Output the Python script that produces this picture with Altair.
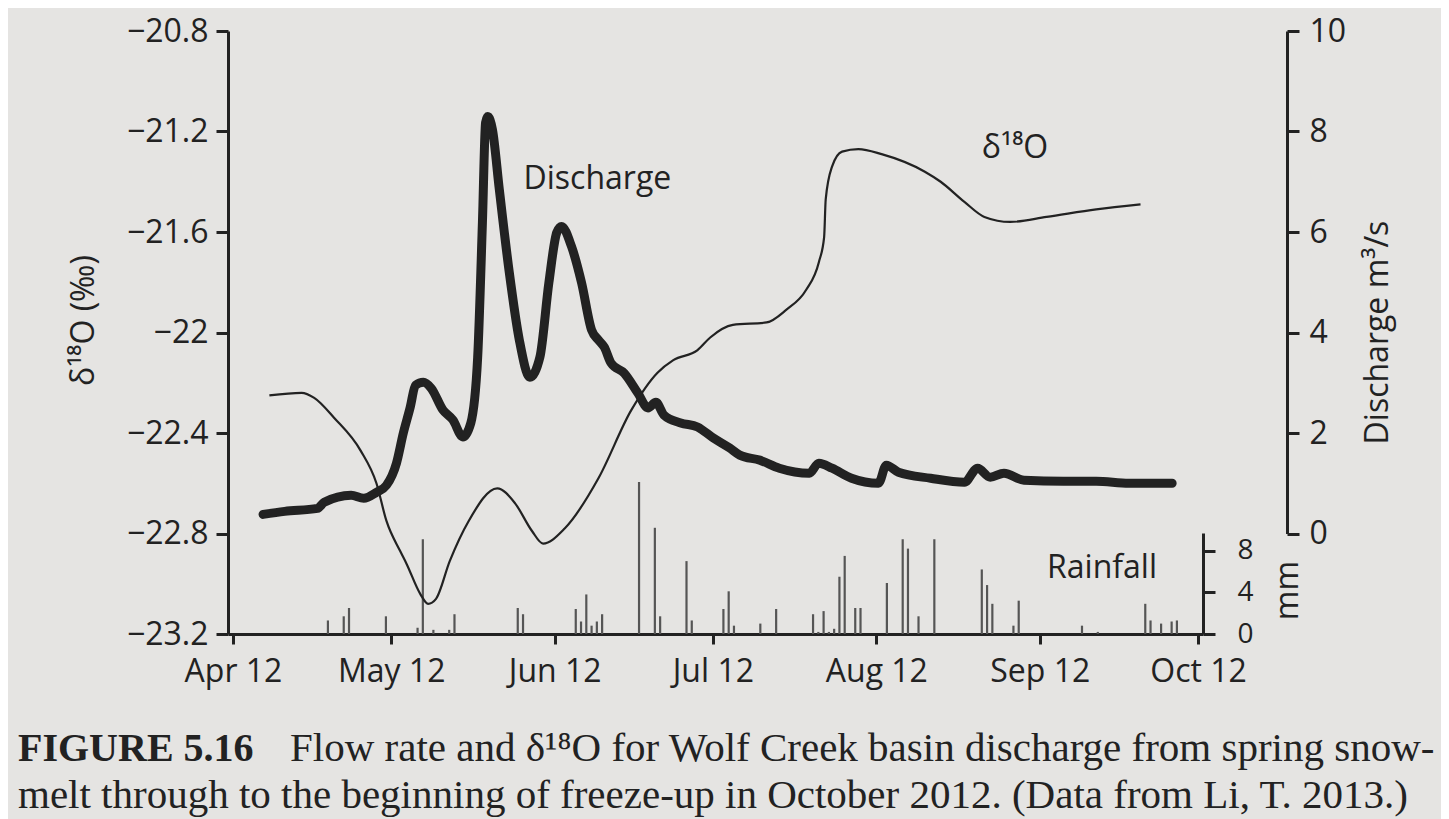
import altair as alt
import pandas as pd

START = pd.Timestamp("2012-04-12")

# ---- data (day offsets from 12 Apr 2012) ----
rain_day = [18, 21, 22, 29, 35, 36, 38, 41, 42, 54, 55, 65, 66, 67, 68, 69, 70, 77, 80, 81,
            86, 87, 93, 94, 95, 100, 103, 110, 111, 112, 113, 114, 115, 116, 118, 119, 124,
            127, 128, 130, 133, 142, 143, 144, 148, 149, 161, 164, 173, 174, 176, 178, 179]
rain_mm = [1.3, 1.7, 2.5, 1.7, 0.6, 9.1, 0.4, 0.4, 1.9, 2.5, 1.9, 2.4, 1.2, 3.8, 0.8, 1.2, 1.9,
           14.6, 10.2, 1.7, 7.0, 1.3, 2.4, 4.1, 0.8, 1.0, 2.4, 1.9, 0.2, 2.2, 0.2, 0.5, 5.5,
           7.5, 2.5, 2.5, 4.9, 9.1, 8.2, 1.7, 9.1, 6.2, 4.7, 2.9, 0.8, 3.2, 0.8, 0.2, 2.9,
           1.3, 1.0, 1.2, 1.3]

d18o_day = [6.9, 13.0, 15.4, 19.2, 24.2, 27.2, 29.1, 31.7, 32.9, 35.5, 37.0, 38.5, 41.1, 44.7,
            50.1, 53.5, 56.7, 58.8, 62.9, 69.3, 75.5, 80.5, 83.5, 88.1, 90.5, 94.8, 101.2,
            104.9, 108.7, 111.1, 112.1, 112.4, 113.6, 115.5, 118.6, 123.0, 131.2, 134.2,
            138.7, 142.5, 147.4, 154.3, 163.7, 172.1]
d18o_val = [-22.25, -22.24, -22.26, -22.34, -22.47, -22.60, -22.75, -22.87, -22.92, -23.04,
            -23.08, -23.06, -22.91, -22.75, -22.62, -22.68, -22.79, -22.84, -22.78, -22.58,
            -22.31, -22.16, -22.11, -22.07, -22.02, -21.97, -21.96, -21.91, -21.83, -21.72,
            -21.62, -21.47, -21.34, -21.28, -21.27, -21.29, -21.36, -21.40, -21.48, -21.54,
            -21.56, -21.54, -21.51, -21.49]

q_day = [5.7, 9.8, 16.0, 17.3, 22.4, 24.8, 27.2, 29.1, 31.0, 32.3, 33.6, 34.6, 36.1, 37.6,
         39.8, 41.7, 43.6, 45.1, 46.4, 47.3, 47.9, 48.3, 49.2, 50.5, 52.4, 54.3, 56.3, 58.2,
         59.9, 61.4, 62.3, 64.2, 66.1, 68.0, 69.3, 70.4, 71.7, 74.2, 76.8, 78.7, 80.2, 81.7,
         84.9, 88.1, 91.1, 94.2, 96.1, 99.9, 103.6, 109.3, 111.1, 113.6, 117.3, 122.4, 123.9,
         126.2, 132.3, 138.7, 141.2, 143.6, 146.2, 150.0, 157.5, 163.7, 169.9, 178.1]
q_val = [0.38, 0.44, 0.50, 0.62, 0.76, 0.70, 0.82, 0.96, 1.40, 2.00, 2.51, 2.95, 3.01, 2.89,
         2.46, 2.26, 1.92, 2.20, 3.51, 6.19, 8.18, 8.30, 8.04, 6.85, 5.19, 3.85, 3.11, 3.51,
         4.99, 5.99, 6.11, 5.71, 4.99, 4.05, 3.85, 3.71, 3.39, 3.19, 2.79, 2.50, 2.61, 2.36,
         2.20, 2.12, 1.90, 1.70, 1.56, 1.46, 1.30, 1.20, 1.40, 1.30, 1.10, 1.00, 1.36,
         1.22, 1.10, 1.02, 1.30, 1.12, 1.20, 1.06, 1.04, 1.04, 1.00, 1.00]

tick_dates = [(2012, 4, 12), (2012, 5, 12), (2012, 6, 12), (2012, 7, 12),
              (2012, 8, 12), (2012, 9, 12), (2012, 10, 12)]
d18o_ticks = [-23.2, -22.8, -22.4, -22.0, -21.6, -21.2, -20.8]
q_ticks = [0, 2, 4, 6, 8, 10]
rain_ticks = [0, 4, 8]

# annotation labels (day offset, value on own axis)
label_discharge = (69.1, 6.86)
label_d18o = (148.3, -21.305)
label_rain = (164.8, 5.4)

caption_head = "FIGURE 5.16"
caption_l1 = "Flow rate and δ¹⁸O for Wolf Creek basin discharge from spring snow-"
caption_l2 = "melt through to the beginning of freeze-up in October 2012. (Data from Li, T. 2013.)"


def iso(days):
    return [(START + pd.Timedelta(days=float(d))).strftime("%Y-%m-%dT%H:%M:%SZ") for d in days]


rain_df = pd.DataFrame({"date": iso(rain_day), "mm": rain_mm})
d18o_df = pd.DataFrame({"date": iso(d18o_day), "v": d18o_val})
q_df = pd.DataFrame({"date": iso(q_day), "q": q_val})

SANS = "Open Sans, Noto Sans, DejaVu Sans"
SERIF = "Liberation Serif, DejaVu Serif"
INK = "#222222"

dt = lambda y, m, d: alt.DateTime(year=y, month=m, date=d, utc=True)
x_scale = alt.Scale(type="utc", domain=[dt(*tick_dates[0]), dt(*tick_dates[-1])], nice=False)
x_axis = alt.Axis(values=[dt(*t) for t in tick_dates], format="%b %d", labelFlush=False,
                  tickSize=10, labelPadding=12, title=None)
X = alt.X("date:T", scale=x_scale, axis=x_axis, title=None)

rain_scale = alt.Scale(domain=[0, 9.7], range=[603, 502], nice=False, zero=True)
d18o_scale = alt.Scale(domain=[-23.2, -20.8], nice=False, zero=False)
q_scale = alt.Scale(domain=[0, 10], range=[502.5, 0], nice=False, zero=True)

rain = alt.Chart(rain_df).mark_bar(size=2.2, color="#555555").encode(
    x=X,
    y=alt.Y("mm:Q", scale=rain_scale, axis=alt.Axis(
        orient="right", values=rain_ticks, title="mm", labelFontSize=28, labelPadding=22,
        tickSize=12, titleX=84, titleY=559, titleAngle=270, titleAlign="center",
        titleBaseline="middle")),
)

d18o = alt.Chart(d18o_df).mark_line(strokeWidth=2.2, color=INK, interpolate="monotone").encode(
    x=X,
    y=alt.Y("v:Q", scale=d18o_scale, axis=alt.Axis(
        orient="left", values=d18o_ticks, format="~g", title="δ¹⁸O (‰)", tickSize=12,
        labelPadding=8, titleX=-145, titleY=289, titleAngle=270, titleAlign="center",
        titleBaseline="middle")),
)

q = alt.Chart(q_df).mark_line(strokeWidth=9, color=INK, interpolate="monotone",
                              strokeCap="round", strokeJoin="round").encode(
    x=X,
    y=alt.Y("q:Q", scale=q_scale, axis=alt.Axis(
        orient="right", offset=84, values=q_ticks, title="Discharge m³/s", tickSize=12,
        labelPadding=10, titleX=90, titleY=301, titleAngle=270, titleAlign="center",
        titleBaseline="middle")),
)

def label(day, val, text, scale, field):
    df = pd.DataFrame({"date": iso([day]), field: [val], "t": [text]})
    return alt.Chart(df).mark_text(font=SANS, fontSize=32, color=INK, align="center",
                                   baseline="alphabetic").encode(
        x=X, y=alt.Y(f"{field}:Q", scale=scale, axis=None), text="t:N")

lab_q = label(*label_discharge, "Discharge", q_scale, "q")
lab_d = label(*label_d18o, "δ¹⁸O", d18o_scale, "v")
lab_r = label(*label_rain, "Rainfall", rain_scale, "mm")

def cap(text, xpix, ypix, size, weight="normal"):
    return alt.Chart(pd.DataFrame({"t": [text]})).mark_text(
        font=SERIF, fontSize=size, fontWeight=weight, color=INK, align="left",
        baseline="alphabetic").encode(x=alt.value(xpix), y=alt.value(ypix), text="t:N")

captions = [
    cap(caption_head, -210, 730, 40, "bold"),
    cap(caption_l1, 62, 730, 41),
    cap(caption_l2, -210, 777, 41),
]

chart = alt.layer(rain, d18o, q, lab_q, lab_d, lab_r, *captions).resolve_scale(
    y="independent"
).properties(
    width=975, height=603,
    padding={"left": 220, "top": 23, "right": 238, "bottom": 185},
    autosize=alt.AutoSizeParams(type="none"),
    background="#e5e4e2",
).configure_view(stroke=None).configure_axis(
    labelFont=SANS, labelFontSize=32, labelColor=INK, titleFont=SANS, titleFontSize=32,
    titleFontWeight="normal", titleColor=INK, domainColor=INK, domainWidth=3, tickColor=INK,
    tickWidth=3, grid=False,
)

chart.save("out.html", embed_options={"renderer": "svg", "actions": False})
